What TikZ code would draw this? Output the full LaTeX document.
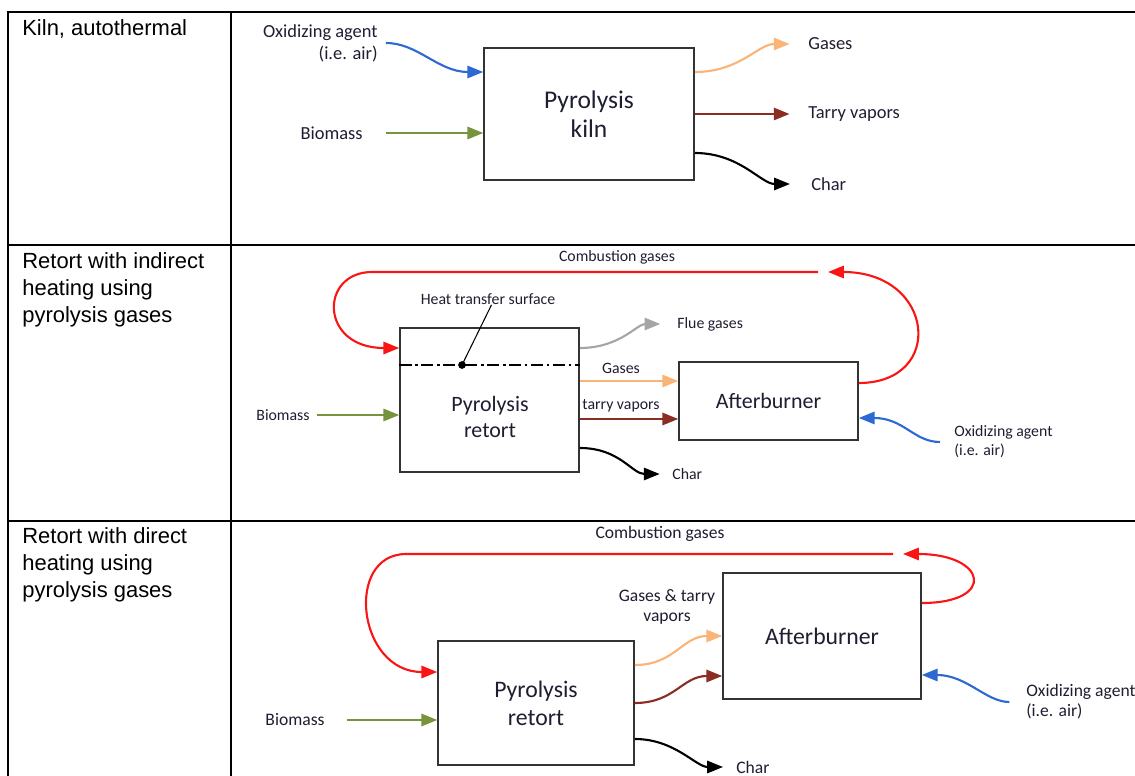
\documentclass[tikz,border=0pt]{standalone}
\usepackage{fontspec}
\setmainfont{Carlito}
\newfontfamily\arialfont{Liberation Sans}
\usetikzlibrary{arrows.meta}

\definecolor{airblue}{RGB}{45,105,210}
\definecolor{biogreen}{RGB}{119,147,60}
\definecolor{gasorange}{RGB}{250,180,120}
\definecolor{tarred}{RGB}{140,45,35}
\definecolor{fluegrey}{RGB}{165,165,165}
\definecolor{combred}{RGB}{250,20,20}
\definecolor{txt}{RGB}{30,30,50}

\begin{document}
\begin{tikzpicture}[x=0.02cm, y=-0.02cm,
			box/.style = {draw=black!80, line width=0.9pt, fill=white, inner sep=0pt, text=txt, align=center},
			lbl/.style = {text=txt, inner sep=0pt},
			rowA/.style = {font=\fontsize{10.5}{12.5}\selectfont},
			rowB/.style = {font=\fontsize{9}{10.8}\selectfont},
			rowC/.style = {font=\fontsize{10}{11.4}\selectfont},
			flow/.style = {line width=1.2pt, -{Triangle[length=9pt, width=7pt]}},
			rowlbl/.style = {anchor=north west, align=left, inner sep=0pt, font=\arialfont\fontsize{12.5}{15.4}\selectfont}]

			\useasboundingbox (0,0) rectangle (1135,776);

			% draw the table
			\draw [line width=1.4pt] (8,776) -- (8,12) -- (1135,12);
			\draw [line width=1.4pt] (231,12) -- (231,776);
			\draw [line width=1.4pt] (8,245) -- (1135,245);
			\draw [line width=1.4pt] (8,521) -- (1135,521);

			\node [rowlbl] (kilnRow) at (22,19) {Kiln, autothermal};
			\node [rowlbl] (indRow) at (22,252) {Retort with indirect\\heating using\\pyrolysis gases};
			\node [rowlbl] (dirRow) at (22,527) {Retort with direct\\heating using\\pyrolysis gases};

			% kiln, autothermal
			\node [box, minimum width=4.2cm, minimum height=2.64cm, font=\fontsize{14.5}{16.5}\selectfont] (kiln) at (589,114) {Pyrolysis\\kiln};
			\node [lbl, rowA, anchor=east, align=right] (oxA) at (378,43) {Oxidizing agent\\(i.e. air)};
			\node [lbl, rowA, anchor=east] (bioA) at (363,133) {Biomass};
			\node [lbl, rowA, anchor=west] (gasA) at (808,44) {Gases};
			\node [lbl, rowA, anchor=west] (tarA) at (808,114) {Tarry vapors};
			\node [lbl, rowA, anchor=west] (charA) at (811,184) {Char};

			\draw [flow, airblue, shorten <=4.5pt] (oxA.east) .. controls +(40,0) and +(-45,0) .. ([yshift=0.84cm]kiln.west);
			\draw [flow, biogreen, shorten <=13pt] (bioA.east) -- (bioA.east -| kiln.west);
			\draw [flow, gasorange, shorten >=10.5pt] ([yshift=0.84cm]kiln.east) .. controls +(45,0) and +(-50,0) .. (gasA.west);
			\draw [flow, tarred, shorten >=10.5pt] (kiln.east) -- (kiln.east -| tarA.west);
			\draw [flow, black, shorten >=12pt] ([yshift=-0.78cm]kiln.east) .. controls +(45,0) and +(-50,0) .. (charA.west);

			% retort, indirect heating
			\node [box, minimum width=3.58cm, minimum height=2.88cm] (retB) at (489.5,400) {};
			\node [lbl, font=\fontsize{12.5}{14.8}\selectfont, align=center] (retBtxt) at (490,417) {Pyrolysis\\retort};
			\node [box, minimum width=3.58cm, minimum height=1.56cm, font=\fontsize{12.5}{15}\selectfont] (burnB) at (768.5,401) {Afterburner};
			\coordinate (hts) at (462,365);
			\coordinate (cgB) at (828,272);
			\node [lbl, rowB] (htsLbl) at (488,299) {Heat transfer surface};
			\node [lbl, rowB] (cgBlbl) at (617,257) {Combustion gases};
			\node [lbl, rowB, anchor=west] (flueB) at (677,324) {Flue gases};
			\node [lbl, rowB] (gasBlbl) at (621,368) {Gases};
			\node [lbl, rowB] (tarBlbl) at (621,406) {tarry vapors};
			\node [lbl, rowB, anchor=west] (charB) at (672,474) {Char};
			\node [lbl, rowB] (bioB) at (283,415) {Biomass};
			\node [lbl, rowB, anchor=west, align=left] (oxB) at (954,442) {Oxidizing agent\\(i.e. air)};

			\draw [dash pattern=on 7pt off 2pt on 1.5pt off 2pt, line width=0.8pt] (retB.west |- hts) -- (retB.east |- hts);
			\fill (hts) circle (2.2pt);
			\draw [line width=0.6pt] (hts) -- ([xshift=2pt]htsLbl.south);
			\draw [flow, combred] ([yshift=0.36cm]burnB.east) .. controls +(87,0) and +(107,0) .. (cgB);
			\draw [flow, combred] ([xshift=-0.2cm]cgB) -- ([xshift=-0.54cm]retB.west |- cgB) .. controls +(-53,0) and +(-80,0) .. ([yshift=1.04cm]retB.west);
			\draw [flow, fluegrey, shorten >=9.5pt] ([yshift=1.04cm]retB.east) .. controls +(40,0) and +(-40,0) .. (flueB.west);
			\draw [flow, gasorange] ([yshift=0.38cm]retB.east) -- ([yshift=0.38cm]retB.east -| burnB.west);
			\draw [flow, tarred] ([yshift=-0.38cm]retB.east) -- ([yshift=-0.38cm]retB.east -| burnB.west);
			\draw [flow, black, shorten >=7pt] ([yshift=-0.96cm]retB.east) .. controls +(40,0) and +(-40,0) .. (charB.west);
			\draw [flow, biogreen, shorten <=4pt] (bioB.east) -- (bioB.east -| retB.west);
			\draw [flow, airblue, shorten <=8pt] (oxB.west) .. controls +(-40,0) and +(45,0) .. ([yshift=-0.34cm]burnB.east);

			% retort, direct heating
			\node [box, minimum width=3.92cm, minimum height=2.48cm, font=\fontsize{13.5}{16}\selectfont] (retC) at (536,703) {Pyrolysis\\retort};
			\node [box, minimum width=3.96cm, minimum height=2.52cm, font=\fontsize{13.5}{16}\selectfont] (burnC) at (822,636) {Afterburner};
			\coordinate (cgC) at (903,554);
			\node [lbl, rowC] (cgClbl) at (660,534) {Combustion gases};
			\node [lbl, rowC, align=center] (gtC) at (667,607) {Gases \& tarry\\vapors};
			\node [lbl, rowC, anchor=west] (charC) at (736,767) {Char};
			\node [lbl, rowC] (bioC) at (295,720) {Biomass};
			\node [lbl, rowC, anchor=west, align=left] (oxC) at (1026,702) {Oxidizing agent\\(i.e. air)};

			\draw [flow, combred] ([yshift=0.66cm]burnC.east) .. controls +(75,0) and +(84,0) .. (cgC);
			\draw [flow, combred] ([xshift=-0.2cm]cgC) -- ([xshift=-0.62cm]retC.west |- cgC) .. controls +(-62,0) and +(-80,0) .. ([yshift=0.62cm]retC.west);
			\draw [flow, gasorange] ([yshift=0.76cm]retC.east) .. controls +(40,0) and +(-40,0) .. (burnC.west);
			\draw [flow, tarred] (retC.east) .. controls +(40,0) and +(-40,0) .. ([yshift=-0.8cm]burnC.west);
			\draw [flow, black, shorten >=7.4pt] ([yshift=-0.72cm]retC.east) .. controls +(40,0) and +(-40,0) .. (charC.west);
			\draw [flow, biogreen, shorten <=12.5pt] (bioC.east) -- (bioC.east -| retC.west);
			\draw [flow, airblue, shorten <=9.5pt] (oxC.west) .. controls +(-40,0) and +(45,0) .. ([yshift=-0.78cm]burnC.east);
		\end{tikzpicture}
\end{document}
